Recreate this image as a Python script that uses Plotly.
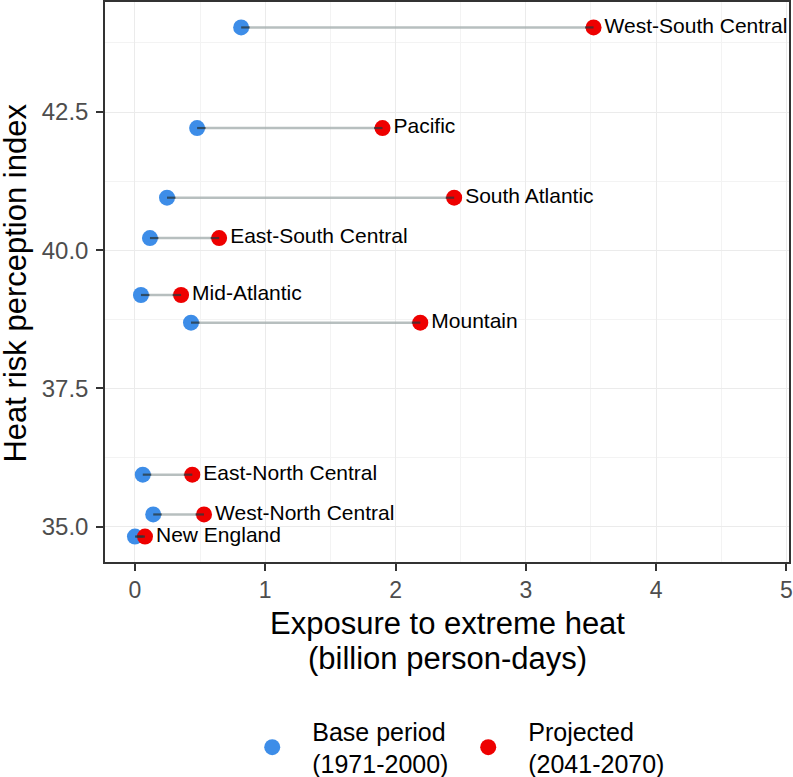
import plotly.graph_objects as go

regions = ["West-South Central", "Pacific", "South Atlantic", "East-South Central",
           "Mid-Atlantic", "Mountain", "East-North Central", "West-North Central", "New England"]
risk_index = [44.03, 42.21, 40.95, 40.22, 39.19, 38.69, 35.94, 35.22, 34.82]
base_exposure = [0.815, 0.477, 0.246, 0.115, 0.046, 0.43, 0.06, 0.14, 0.0]
proj_exposure = [3.52, 1.90, 2.45, 0.646, 0.354, 2.19, 0.44, 0.53, 0.077]

x_ticks = [0, 1, 2, 3, 4, 5]
y_ticks = [35.0, 37.5, 40.0, 42.5]
y_tick_labels = ["35.0", "37.5", "40.0", "42.5"]

BLUE = "#3D8DE8"
RED = "#EE0000"
FONT = "Liberation Sans, Arial"

fig = go.Figure()

# gray connecting segments
seg_x, seg_y = [], []
for b, p, y in zip(base_exposure, proj_exposure, risk_index):
    seg_x += [b, p, None]
    seg_y += [y, y, None]
fig.add_trace(go.Scatter(x=seg_x, y=seg_y, mode="lines",
                         line=dict(color="rgba(165,175,175,0.8)", width=2.5),
                         showlegend=False, hoverinfo="skip"))

fig.add_trace(go.Scatter(x=base_exposure, y=risk_index, mode="markers",
                         marker=dict(color=BLUE, size=16, line=dict(width=0)),
                         name="Base period<br>(1971-2000)"))
fig.add_trace(go.Scatter(x=proj_exposure, y=risk_index, mode="markers+text",
                         marker=dict(color=RED, size=16, line=dict(width=0)),
                         text=regions, textposition="middle right",
                         textfont=dict(size=21, color="black", family=FONT),
                         name="Projected<br>(2041-2070)"))

# darker short ends drawn over the points
d = 0.065
end_x, end_y = [], []
for b, p, y in zip(base_exposure, proj_exposure, risk_index):
    end_x += [b, min(b + d, p), None, max(p - d, b), p, None]
    end_y += [y, y, None, y, y, None]
fig.add_trace(go.Scatter(x=end_x, y=end_y, mode="lines",
                         line=dict(color="rgba(40,55,60,0.75)", width=2.2),
                         showlegend=False, hoverinfo="skip"))

fig.update_layout(
    width=793, height=777,
    margin=dict(l=105, r=4, t=2, b=215, autoexpand=False),
    paper_bgcolor="white", plot_bgcolor="white",
    font=dict(family=FONT, color="black"),
    xaxis=dict(range=[-0.23, 5.02], tickvals=x_ticks, ticktext=[str(v) for v in x_ticks],
               showgrid=True, gridcolor="#EBEBEB", gridwidth=1.2,
               minor=dict(dtick=0.5, showgrid=True, gridcolor="#F3F3F3", gridwidth=0.8),
               ticks="outside", ticklen=7, tickwidth=1.5, tickcolor="#333333",
               ticklabelstandoff=0,
               tickfont=dict(size=23, color="#4D4D4D"), automargin=False,
               showline=True, linecolor="#333333", linewidth=1.5, mirror=True, zeroline=False),
    yaxis=dict(range=[34.36, 44.49], tickvals=y_ticks, ticktext=y_tick_labels,
               showgrid=True, gridcolor="#EBEBEB", gridwidth=1.2,
               minor=dict(tickvals=[36.25, 38.75, 41.25, 43.75], showgrid=True,
                          gridcolor="#F3F3F3", gridwidth=0.8),
               ticks="outside", ticklen=7, tickwidth=1.5, tickcolor="#333333",
               ticklabelstandoff=3,
               tickfont=dict(size=24, color="#4D4D4D"), automargin=False,
               showline=True, linecolor="#333333", linewidth=1.5, mirror=True, zeroline=False),
    legend=dict(orientation="h", x=0.186, xanchor="left", y=-0.261, yanchor="top",
                font=dict(size=25, color="black"), itemsizing="trace",
                itemwidth=70, entrywidth=131, traceorder="normal"),
    annotations=[
        dict(text="Exposure to extreme heat", xref="paper", yref="paper",
             x=0.5, y=-0.11, xanchor="center", yanchor="middle", showarrow=False,
             font=dict(size=31, color="black")),
        dict(text="(billion person-days)", xref="paper", yref="paper",
             x=0.5, y=-0.173, xanchor="center", yanchor="middle", showarrow=False,
             font=dict(size=31, color="black")),
        dict(text="Heat risk perception index", xref="paper", yref="paper",
             x=-0.131, y=0.498, xanchor="center", yanchor="middle", textangle=-90,
             showarrow=False, font=dict(size=31, color="black")),
    ],
)

fig.write_html("out.html", post_script="document.body.style.margin='0';",
               config={"displayModeBar": False})
